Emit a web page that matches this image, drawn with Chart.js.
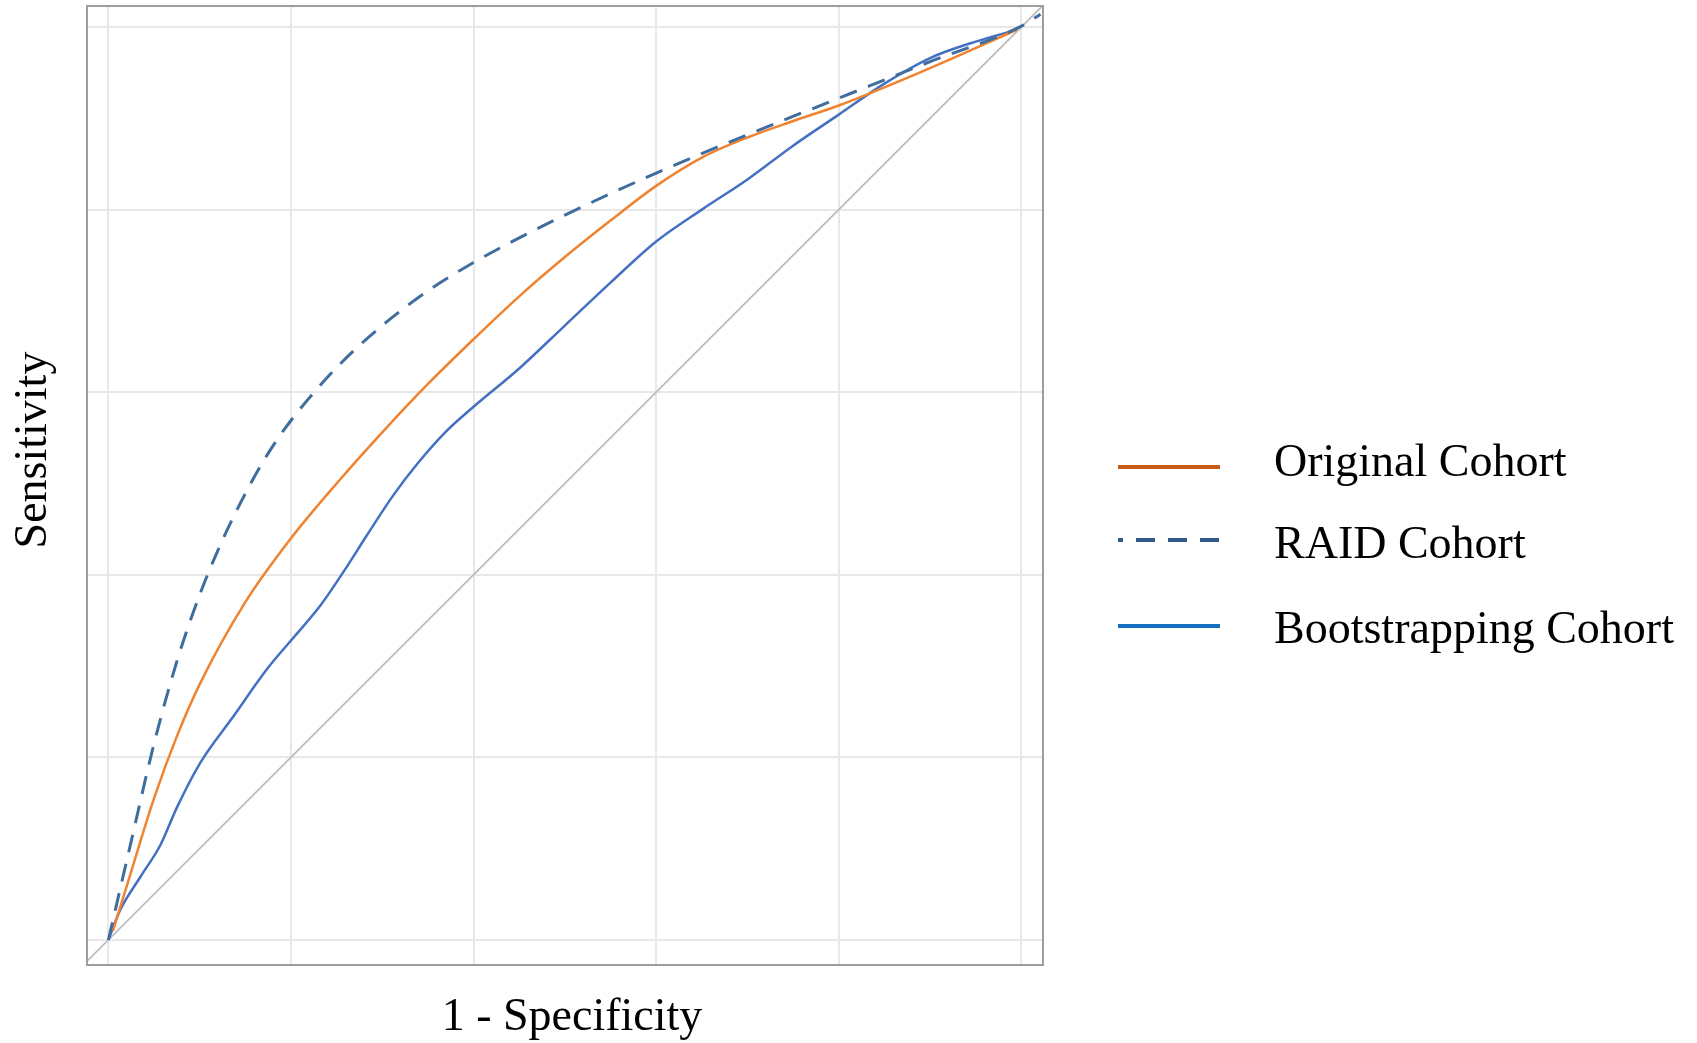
<!DOCTYPE html>
<html>
<head>
<meta charset="utf-8">
<script src="https://cdn.jsdelivr.net/npm/chart.js@4.4.1/dist/chart.umd.min.js"></script>
<style>
  html, body { margin: 0; padding: 0; background: #ffffff; }
  #wrap { position: relative; width: 1697px; height: 1043px; }
</style>
</head>
<body>
<div id="wrap"><canvas id="c"></canvas></div>
<script>
// ---------------- data ----------------
const gridValues = [0, 0.2, 0.4, 0.6, 0.8, 1.0];
const seriesLabels = ['Original Cohort', 'RAID Cohort', 'Bootstrapping Cohort'];
const xTitle = '1 - Specificity';
const yTitle = 'Sensitivity';

const originalFpr = [0.005, 0.025, 0.05, 0.075, 0.1, 0.15, 0.2, 0.25, 0.3, 0.35, 0.4, 0.45, 0.5, 0.55, 0.6, 0.65, 0.7, 0.75, 0.8, 0.9, 0.995];
const originalTpr = [0.010, 0.075, 0.155, 0.223, 0.280, 0.370, 0.440, 0.500, 0.556, 0.609, 0.658, 0.705, 0.748, 0.788, 0.826, 0.857, 0.879, 0.897, 0.914, 0.955, 0.997];

const raidFpr = [0, 0.025, 0.05, 0.075, 0.1, 0.125, 0.15, 0.175, 0.2, 0.25, 0.3, 0.35, 0.4, 0.45, 0.5, 0.6, 0.7, 0.8, 0.9, 1.0, 1.021];
const raidTpr = [0, 0.108, 0.215, 0.305, 0.378, 0.438, 0.489, 0.533, 0.569, 0.627, 0.673, 0.711, 0.742, 0.769, 0.794, 0.840, 0.882, 0.922, 0.962, 1.001, 1.014];

const bootFpr = [0, 0.013, 0.035, 0.057, 0.075, 0.1, 0.137, 0.174, 0.2, 0.232, 0.258, 0.283, 0.312, 0.338, 0.37, 0.4, 0.45, 0.5, 0.55, 0.6, 0.65, 0.7, 0.75, 0.8, 0.85, 0.9, 0.95, 0.995];
const bootTpr = [0, 0.033, 0.069, 0.104, 0.145, 0.193, 0.245, 0.297, 0.328, 0.366, 0.404, 0.443, 0.487, 0.521, 0.557, 0.584, 0.626, 0.673, 0.720, 0.765, 0.800, 0.833, 0.870, 0.904, 0.938, 0.966, 0.984, 0.997];

const diagonalEnds = [-0.03, 1.03];
const axisMin = [-0.0234, -0.0274];
const axisMax = [1.0237, 1.023];

// ---------------- helpers ----------------
const toPoints = (xs, ys) => xs.map((x, i) => ({ x: x, y: ys[i] }));
const SERIF = '"Liberation Serif", "Times New Roman", "DejaVu Serif", serif';

const legendStyles = [
  { color: '#C65D1B', dash: [] },
  { color: '#2F5A87', dash: [19, 13], offset: 14 },
  { color: '#1570C0', dash: [] }
];

const decorPlugin = {
  id: 'decor',
  afterDatasetsDraw(chart) {
    const { ctx, chartArea: a } = chart;
    ctx.save();
    ctx.strokeStyle = '#9E9E9E';
    ctx.lineWidth = 2;
    ctx.strokeRect(a.left, a.top, a.right - a.left, a.bottom - a.top);
    ctx.restore();
  },
  afterDraw(chart) {
    const { ctx } = chart;
    ctx.save();
    ctx.fillStyle = '#000000';
    // x title
    ctx.font = '46px ' + SERIF;
    ctx.textAlign = 'center';
    ctx.textBaseline = 'alphabetic';
    ctx.fillText(xTitle, 572, 1030);
    // y title
    ctx.save();
    ctx.translate(46, 450);
    ctx.rotate(-Math.PI / 2);
    ctx.fillText(yTitle, 0, 0);
    ctx.restore();
    // legend
    const lineY = [467, 540, 626];
    const textY = [476, 558, 643];
    ctx.font = '46px ' + SERIF;
    ctx.textAlign = 'left';
    seriesLabels.forEach((lab, i) => {
      const st = legendStyles[i];
      ctx.save();
      ctx.strokeStyle = st.color;
      ctx.lineWidth = 4;
      ctx.setLineDash(st.dash);
      ctx.lineDashOffset = st.offset || 0;
      ctx.beginPath();
      ctx.moveTo(1118, lineY[i]);
      ctx.lineTo(1220, lineY[i]);
      ctx.stroke();
      ctx.restore();
      ctx.fillStyle = '#000000';
      ctx.fillText(lab, 1274, textY[i]);
    });
    ctx.restore();
  }
};

const gridOpts = {
  color: '#E8E8E8',
  lineWidth: 2,
  drawTicks: false
};

new Chart(document.getElementById('c'), {
  type: 'line',
  data: {
    datasets: [
      {
        label: 'diagonal',
        data: toPoints(diagonalEnds, diagonalEnds),
        borderColor: '#BDBDBD',
        borderWidth: 1.8,
        pointRadius: 0,
        order: 4
      },
      {
        label: seriesLabels[0],
        data: toPoints(originalFpr, originalTpr),
        borderColor: '#F0832F',
        borderWidth: 2.5,
        pointRadius: 0,
        cubicInterpolationMode: 'monotone',
        order: 2
      },
      {
        label: seriesLabels[1],
        data: toPoints(raidFpr, raidTpr),
        borderColor: '#3F6E9E',
        borderWidth: 3,
        borderDash: [18, 12],
        pointRadius: 0,
        cubicInterpolationMode: 'monotone',
        order: 1
      },
      {
        label: seriesLabels[2],
        data: toPoints(bootFpr, bootTpr),
        borderColor: '#4470C4',
        borderWidth: 2.5,
        pointRadius: 0,
        cubicInterpolationMode: 'monotone',
        order: 3
      }
    ]
  },
  options: {
    responsive: true,
    maintainAspectRatio: false,
    animation: false,
    events: [],
    layout: { padding: { left: 87, top: 6, right: 654, bottom: 78 } },
    plugins: {
      legend: { display: false },
      tooltip: { enabled: false },
      title: { display: false }
    },
    scales: {
      x: {
        type: 'linear',
        min: axisMin[0],
        max: axisMax[0],
        ticks: { display: false },
        grid: gridOpts,
        border: { display: false },
        afterBuildTicks: s => { s.ticks = gridValues.map(v => ({ value: v })); },
        afterFit: s => { s.height = 0; }
      },
      y: {
        type: 'linear',
        min: axisMin[1],
        max: axisMax[1],
        ticks: { display: false },
        grid: gridOpts,
        border: { display: false },
        afterBuildTicks: s => { s.ticks = gridValues.map(v => ({ value: v })); },
        afterFit: s => { s.width = 0; }
      }
    }
  },
  plugins: [decorPlugin]
});
</script>
</body>
</html>
